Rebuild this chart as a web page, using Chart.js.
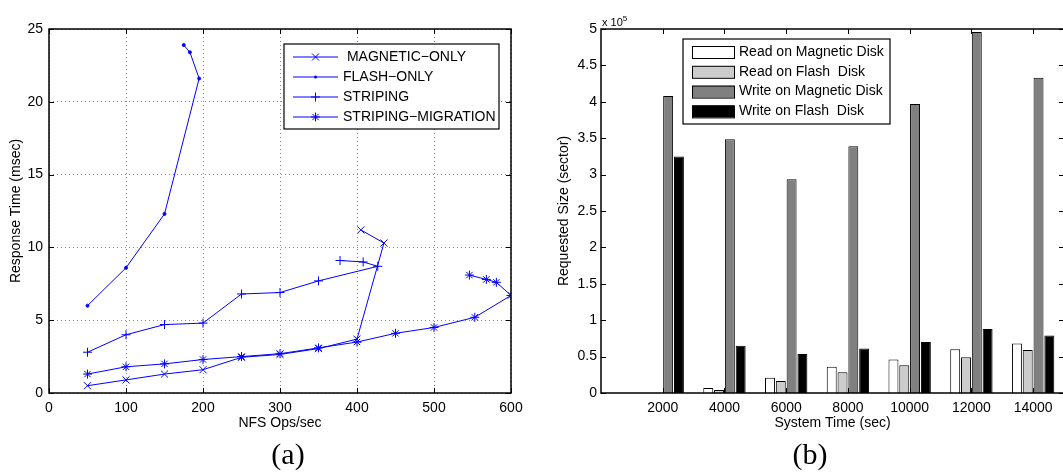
<!DOCTYPE html>
<html>
<head>
<meta charset="utf-8">
<script src="https://cdn.jsdelivr.net/npm/chart.js@4.4.1/dist/chart.umd.min.js"></script>
<style>
body { margin: 0; width: 1063px; height: 474px; overflow: hidden; background: #fff; position: relative; font-family: "Liberation Sans", Arial, sans-serif; }
#left { position: absolute; left: 0; top: 0; }
#right { position: absolute; left: 540px; top: 0; }
.cap { position: absolute; top: 436px; width: 100px; text-align: center; line-height: 36px; font-family: "Liberation Serif", serif; font-size: 30px; }
#exp { position: absolute; left: 602px; top: 13px; font-size: 11px; line-height: 12px; }
#exp sup { font-size: 8px; vertical-align: 5px; }
</style>
</head>
<body>
<canvas id="left" width="530" height="440"></canvas>
<canvas id="right" width="530" height="440"></canvas>
<div id="exp">x 10<sup>5</sup></div>
<div class="cap" style="left:238px">(a)</div>
<div class="cap" style="left:760px">(b)</div>
<script>
// (a) response time vs NFS ops
const magX = [50, 100, 150, 200, 250, 300, 350, 400, 435, 405];
const magY = [0.5, 0.9, 1.3, 1.6, 2.45, 2.65, 3.05, 3.7, 10.3, 11.2];
const flashX = [50, 100, 150, 195, 183, 175];
const flashY = [6.0, 8.6, 12.3, 21.6, 23.4, 23.9];
const stripX = [50, 100, 150, 200, 250, 300, 350, 427, 408, 378];
const stripY = [2.8, 4.0, 4.7, 4.8, 6.8, 6.9, 7.7, 8.7, 9.0, 9.1];
const migX = [50, 100, 150, 200, 250, 300, 350, 400, 450, 500, 553, 600, 581, 568, 546];
const migY = [1.3, 1.8, 2.0, 2.3, 2.5, 2.7, 3.1, 3.5, 4.1, 4.5, 5.2, 6.7, 7.6, 7.8, 8.1];

// (b) requested size per system time
const times = [2000, 4000, 6000, 8000, 10000, 12000, 14000];
const readMag = [300, 7000, 21000, 36000, 46000, 60000, 68000];
const readFlash = [300, 4000, 16500, 28500, 38000, 49000, 59000];
const writeMag = [408000, 348500, 293500, 339000, 397000, 496000, 433000];
const writeFlash = [325000, 65000, 53500, 61000, 70000, 88000, 79000];

const FONT = '"Liberation Sans", Arial, sans-serif';
Chart.defaults.font.family = FONT;
Chart.defaults.font.size = 14;
Chart.defaults.color = '#000';

const blue = 'rgb(0,0,255)';

function drawMarker(ctx, style, x, y, r) {
    ctx.beginPath();
    if (style === 'circle') {
        ctx.arc(x, y, r, 0, Math.PI * 2);
        ctx.fill();
        return;
    }
    if (style === 'cross' || style === 'star') {
        ctx.moveTo(x - r, y); ctx.lineTo(x + r, y);
        ctx.moveTo(x, y - r); ctx.lineTo(x, y + r);
    }
    if (style === 'crossRot' || style === 'star') {
        const d = r * Math.SQRT1_2;
        ctx.moveTo(x - d, y - d); ctx.lineTo(x + d, y + d);
        ctx.moveTo(x - d, y + d); ctx.lineTo(x + d, y - d);
    }
    ctx.stroke();
}

// box round the plot with inward ticks on every side
const frameTicks = {
    id: 'frameTicks',
    afterDraw(chart) {
        const {ctx, chartArea: a, scales: {x, y}} = chart;
        ctx.save();
        ctx.strokeStyle = '#000';
        ctx.lineWidth = 1;
        ctx.beginPath();
        x.ticks.forEach(t => {
            const p = Math.round(x.getPixelForValue(t.value)) + 0.5;
            ctx.moveTo(p, a.bottom); ctx.lineTo(p, a.bottom - 5);
            ctx.moveTo(p, a.top); ctx.lineTo(p, a.top + 5);
        });
        y.ticks.forEach(t => {
            const p = Math.round(y.getPixelForValue(t.value)) + 0.5;
            ctx.moveTo(a.left, p); ctx.lineTo(a.left + 5, p);
            ctx.moveTo(a.right, p); ctx.lineTo(a.right - 5, p);
        });
        ctx.stroke();
        ctx.lineWidth = 1.5;
        ctx.strokeRect(a.left, a.top, a.right - a.left, a.bottom - a.top);
        ctx.restore();
    }
};

const boxLegend = {
    id: 'boxLegend',
    afterDraw(chart, args, o) {
        const ctx = chart.ctx;
        const [bx, by, bw, bh] = o.box;
        ctx.save();
        ctx.fillStyle = '#fff';
        ctx.fillRect(bx, by, bw, bh);
        ctx.strokeStyle = '#000';
        ctx.lineWidth = 1.2;
        ctx.strokeRect(bx, by, bw, bh);
        ctx.font = '14px ' + FONT;
        ctx.textBaseline = 'middle';
        chart.data.datasets.forEach((ds, i) => {
            const yy = o.firstRow + i * o.rowStep;
            ctx.lineWidth = 1;
            if (o.kind === 'line') {
                ctx.strokeStyle = ds.borderColor;
                ctx.fillStyle = ds.borderColor;
                ctx.beginPath();
                ctx.moveTo(o.sampleX, yy);
                ctx.lineTo(o.sampleX + o.sampleW, yy);
                ctx.stroke();
                drawMarker(ctx, ds.pointStyle, o.sampleX + o.sampleW / 2, yy, ds.pointRadius);
            } else {
                ctx.fillStyle = ds.backgroundColor;
                ctx.fillRect(o.sampleX, yy - 6, o.sampleW, 12);
                ctx.strokeStyle = '#000';
                ctx.strokeRect(o.sampleX + 0.5, yy - 5.5, o.sampleW, 12);
            }
            ctx.fillStyle = '#000';
            ctx.fillText(ds.label, o.textX, yy);
        });
        ctx.restore();
    }
};

function lineSet(label, xs, ys, style, r) {
    return {
        label: label,
        data: xs.map((x, i) => ({x: x, y: ys[i]})),
        borderColor: blue,
        backgroundColor: blue,
        borderWidth: 1,
        pointStyle: style,
        pointRadius: r,
        pointBorderWidth: 1,
        pointBorderColor: blue,
        pointBackgroundColor: blue,
        tension: 0,
        fill: false
    };
}

new Chart(document.getElementById('left'), {
    type: 'line',
    data: {
        datasets: [
            lineSet(' MAGNETIC\u2212ONLY', magX, magY, 'crossRot', 5),
            lineSet('FLASH\u2212ONLY', flashX, flashY, 'circle', 1.5),
            lineSet('STRIPING', stripX, stripY, 'cross', 4.5),
            lineSet('STRIPING\u2212MIGRATION', migX, migY, 'star', 4.5)
        ]
    },
    options: {
        responsive: false,
        animation: false,
        events: [],
        layout: {padding: {left: 0, top: 29, right: 19, bottom: 0}},
        plugins: {
            legend: {display: false},
            tooltip: {enabled: false},
            boxLegend: {kind: 'line', box: [284, 44, 215, 85], firstRow: 57, rowStep: 20, sampleX: 293, sampleW: 45, textX: 343}
        },
        scales: {
            x: {
                type: 'linear',
                min: 0,
                max: 600,
                ticks: {stepSize: 100, padding: 7, maxRotation: 0, autoSkip: false},
                grid: {color: '#8c8c8c', drawTicks: false},
                border: {display: false, dash: [1, 3]},
                title: {display: true, text: 'NFS Ops/sec', padding: {top: 0, bottom: 8}},
                afterFit(s) { s.height = 47; }
            },
            y: {
                type: 'linear',
                min: 0,
                max: 25,
                ticks: {stepSize: 5, padding: 6},
                grid: {color: '#8c8c8c', drawTicks: false},
                border: {display: false, dash: [1, 3]},
                title: {display: true, text: 'Response Time (msec)', padding: {top: 8, bottom: 0}},
                afterFit(s) { s.width = 49; }
            }
        }
    },
    plugins: [frameTicks, boxLegend]
});

function barSet(label, values, color) {
    return {
        label: label,
        data: times.map((t, i) => ({x: t, y: values[i]})),
        backgroundColor: color,
        borderColor: '#000',
        borderWidth: 1,
        barPercentage: 0.92,
        categoryPercentage: 0.7
    };
}

new Chart(document.getElementById('right'), {
    type: 'bar',
    data: {
        datasets: [
            barSet('Read on Magnetic Disk', readMag, '#ffffff'),
            barSet('Read on Flash  Disk', readFlash, '#cccccc'),
            barSet('Write on Magnetic Disk', writeMag, '#808080'),
            barSet('Write on Flash  Disk', writeFlash, '#000000')
        ]
    },
    options: {
        responsive: false,
        animation: false,
        events: [],
        layout: {padding: {left: 0, top: 29, right: 6, bottom: 0}},
        plugins: {
            legend: {display: false},
            tooltip: {enabled: false},
            boxLegend: {kind: 'bar', box: [143, 39, 207, 85], firstRow: 52, rowStep: 19.8, sampleX: 152, sampleW: 42, textX: 199}
        },
        scales: {
            x: {
                type: 'linear',
                offset: false,
                min: 0,
                max: 15000,
                afterBuildTicks(s) { s.ticks = times.map(v => ({value: v})); },
                ticks: {autoSkip: false, maxRotation: 0, padding: 7, callback: v => String(v)},
                grid: {display: false, drawTicks: false},
                border: {display: false},
                title: {display: true, text: 'System Time (sec)', padding: {top: 0, bottom: 8}},
                afterFit(s) { s.height = 47; }
            },
            y: {
                min: 0,
                max: 500000,
                ticks: {stepSize: 50000, padding: 4, callback: v => String(v / 1e5)},
                grid: {display: false, drawTicks: false},
                border: {display: false},
                title: {display: true, text: 'Requested Size (sector)', padding: {top: 16, bottom: 0}},
                afterFit(s) { s.width = 61; }
            }
        }
    },
    plugins: [frameTicks, boxLegend]
});
</script>
</body>
</html>
